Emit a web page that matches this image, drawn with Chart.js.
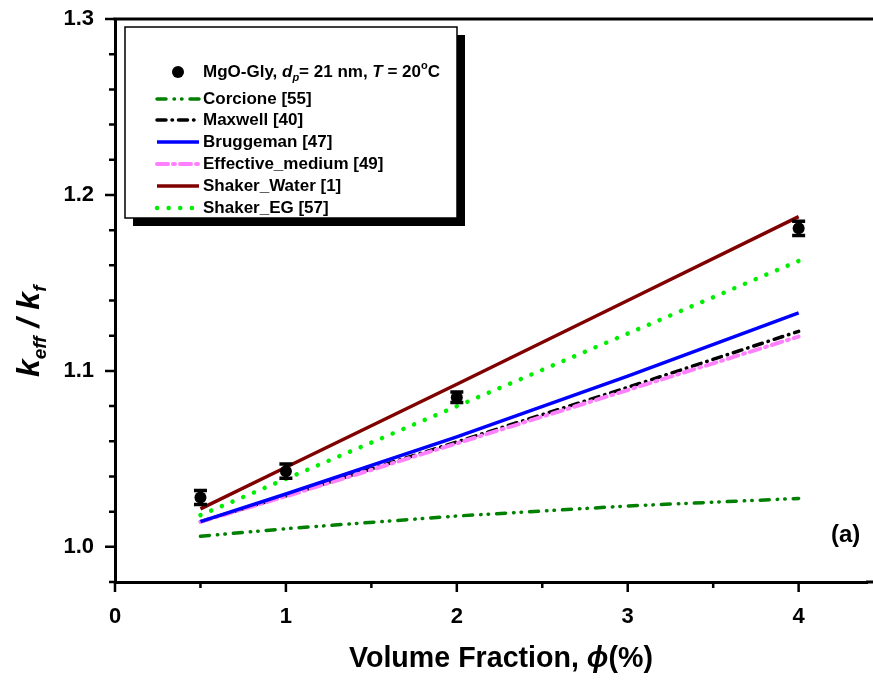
<!DOCTYPE html>
<html>
<head>
<meta charset="utf-8">
<script src="https://cdn.jsdelivr.net/npm/chart.js@4.4.1/dist/chart.umd.min.js"></script>
<style>
  html, body { margin: 0; padding: 0; background: #fff; overflow: hidden; }
  canvas { display: block; }
</style>
</head>
<body>
<canvas id="chart" width="873" height="684"></canvas>
<script>
// Measured thermal conductivity ratio of MgO–glycerol nanofluid
const expPhi = [0.5, 1, 2, 4];
const expRatio = [1.028, 1.043, 1.085, 1.181];
const expError = [0.004, 0.004, 0.003, 0.004];

// Model predictions, volume fraction in %
const modelPhi = [0.5, 1, 2, 3, 4];
const corcione = [1.0060, 1.0103, 1.0175, 1.0232, 1.0275];
const maxwell = [1.0143, 1.0290, 1.0596, 1.0906, 1.1225];
const bruggeman = [1.0143, 1.0300, 1.0625, 1.0970, 1.1330];
const effectiveMedium = [1.0142, 1.0287, 1.0588, 1.0891, 1.1195];
const shakerWater = [1.0216, 1.0452, 1.0924, 1.1400, 1.1877];
const shakerEG = [1.0180, 1.0386, 1.0799, 1.1212, 1.1625];

const seriesNames = ['Corcione [55]', 'Maxwell [40]', 'Bruggeman [47]',
  'Effective_medium [49]', 'Shaker_Water [1]', 'Shaker_EG [57]'];
const seriesValues = [corcione, maxwell, bruggeman, effectiveMedium, shakerWater, shakerEG];

const xMajorTicks = [0, 1, 2, 3, 4];
const xMinorTicks = [0.5, 1.5, 2.5, 3.5];
const yMajorTicks = [1.0, 1.1, 1.2, 1.3];
const yMinorTicks = [0.98, 1.02, 1.04, 1.06, 1.08, 1.12, 1.14, 1.16, 1.18, 1.22, 1.24, 1.26, 1.28];

const FONT = '"Liberation Sans", Arial, sans-serif';

const lineStyles = [
  { color: '#008000', width: 3.5, dash: [9, 8, 0.5, 7, 0.5, 8], cap: 'round' },
  { color: '#000000', width: 3.5, dash: [9, 6, 0.5, 6], cap: 'round' },
  { color: '#0000ff', width: 3.5, dash: [], cap: 'butt' },
  { color: '#ff80ff', width: 4, dash: [11, 5, 2, 5], cap: 'round' },
  { color: '#800000', width: 3.5, dash: [], cap: 'butt' },
  { color: '#00ee00', width: 4.5, dash: [0.1, 11.5], cap: 'round' }
];
const drawOrder = [6, 5, 3, 4, 2, 1];

const datasets = [{
  label: 'MgO-Gly',
  data: expPhi.map((x, i) => ({ x, y: expRatio[i] })),
  showLine: false,
  pointRadius: 6,
  pointBackgroundColor: '#000',
  pointBorderColor: '#000',
  pointBorderWidth: 0,
  order: 0
}];
seriesValues.forEach((vals, k) => {
  const st = lineStyles[k];
  datasets.push({
    label: seriesNames[k],
    data: modelPhi.map((x, i) => ({ x, y: vals[i] })),
    showLine: true,
    pointRadius: 0,
    borderColor: st.color,
    borderWidth: st.width,
    borderDash: st.dash,
    borderCapStyle: st.cap,
    tension: 0,
    order: drawOrder[k]
  });
});

// error bars for the measured points
const errorBars = {
  id: 'errorBars',
  afterDatasetsDraw(chart) {
    const { ctx, scales: { x, y } } = chart;
    ctx.save();
    ctx.strokeStyle = '#000';
    ctx.lineWidth = 3.5;
    expPhi.forEach((p, i) => {
      const px = x.getPixelForValue(p);
      const top = y.getPixelForValue(expRatio[i] + expError[i]);
      const bot = y.getPixelForValue(expRatio[i] - expError[i]);
      ctx.beginPath();
      ctx.moveTo(px, top); ctx.lineTo(px, bot);
      ctx.moveTo(px - 6.5, top); ctx.lineTo(px + 6.5, top);
      ctx.moveTo(px - 6.5, bot); ctx.lineTo(px + 6.5, bot);
      ctx.stroke();
    });
    ctx.restore();
  }
};

function drawRuns(ctx, runs, x, y) {
  // runs: [text, font, dy]
  let cx = x;
  runs.forEach(([t, f, dy]) => {
    ctx.font = f;
    ctx.fillText(t, cx, y + (dy || 0));
    cx += ctx.measureText(t).width;
  });
  return cx;
}

// axis frame, tick marks, titles, legend and panel label
const decorations = {
  id: 'decorations',
  afterDraw(chart) {
    const { ctx, chartArea: a, scales: { x, y } } = chart;
    ctx.save();
    ctx.strokeStyle = '#000';
    ctx.fillStyle = '#000';

    // top frame line, and the x axis carried on to the right edge
    ctx.lineWidth = 3;
    ctx.beginPath();
    ctx.moveTo(a.left - 1.5, a.top); ctx.lineTo(chart.width, a.top);
    ctx.moveTo(a.right - 1, a.bottom); ctx.lineTo(chart.width, a.bottom);
    ctx.stroke();

    // tick marks, pointing outward
    ctx.lineWidth = 2.5;
    ctx.beginPath();
    xMajorTicks.forEach(v => { const p = x.getPixelForValue(v); ctx.moveTo(p, a.bottom); ctx.lineTo(p, a.bottom + 10); });
    xMinorTicks.forEach(v => { const p = x.getPixelForValue(v); ctx.moveTo(p, a.bottom); ctx.lineTo(p, a.bottom + 6); });
    yMajorTicks.forEach(v => { const p = y.getPixelForValue(v); ctx.moveTo(a.left, p); ctx.lineTo(a.left - 10, p); });
    yMinorTicks.forEach(v => { const p = y.getPixelForValue(v); ctx.moveTo(a.left, p); ctx.lineTo(a.left - 6, p); });
    ctx.stroke();

    // x axis title, a compressed bold face
    ctx.textBaseline = 'alphabetic';
    ctx.textAlign = 'left';
    const xt = [['Volume Fraction, ', 'bold 30px ' + FONT], ['\u03D5', 'italic bold 30px ' + FONT], ['(%)', 'bold 30px ' + FONT]];
    let w = 0;
    xt.forEach(([t, f]) => { ctx.font = f; w += ctx.measureText(t).width; });
    const sx = 304 / w;
    ctx.save();
    ctx.translate(349, 667);
    ctx.scale(sx, 1);
    drawRuns(ctx, xt, 0, 0);
    ctx.restore();

    // y axis title k_eff / k_f
    ctx.save();
    ctx.translate(39, 377);
    ctx.rotate(-Math.PI / 2);
    const big = 'italic bold 32px ' + FONT;
    const sub = 'italic bold 19px ' + FONT;
    drawRuns(ctx, [['k', big], ['eff', sub, 7], [' / ', big], ['k', big], ['f', sub, 7]], 0, 0);
    ctx.restore();

    // panel label
    ctx.font = 'bold 24px ' + FONT;
    ctx.fillText('(a)', 831, 542);

    // legend with drop shadow
    const L = 125, T = 27, W = 332, H = 191;
    ctx.fillStyle = '#000';
    ctx.fillRect(L + 8, T + 8, W, H);
    ctx.fillStyle = '#fff';
    ctx.fillRect(L, T, W, H);
    ctx.lineWidth = 1.5;
    ctx.strokeStyle = '#000';
    ctx.strokeRect(L, T, W, H);

    ctx.fillStyle = '#000';
    ctx.textBaseline = 'middle';
    const f = 'bold 17px ' + FONT;
    const fi = 'italic bold 17px ' + FONT;
    const fs = 'italic bold 11px ' + FONT;
    const fsup = 'bold 11px ' + FONT;
    ctx.beginPath();
    ctx.arc(178, 72, 6, 0, Math.PI * 2);
    ctx.fill();
    drawRuns(ctx, [['MgO-Gly, ', f], ['d', fi], ['p', fs, 6], ['= 21 nm, ', f], ['T', fi], [' = 20', f], ['o', fsup, -6], ['C', f]], 203, 72);

    const rowsY = [99, 120, 142, 164, 186, 208];
    seriesNames.forEach((name, k) => {
      const st = lineStyles[k];
      const ry = rowsY[k];
      ctx.save();
      ctx.strokeStyle = st.color;
      ctx.lineWidth = st.width;
      ctx.lineCap = st.cap;
      ctx.setLineDash(st.dash);
      ctx.beginPath();
      ctx.moveTo(157, ry); ctx.lineTo(199, ry);
      ctx.stroke();
      ctx.restore();
      ctx.font = f;
      ctx.fillText(name, 203, ry);
    });

    ctx.restore();
  }
};

new Chart(document.getElementById('chart'), {
  type: 'scatter',
  data: { datasets },
  plugins: [errorBars, decorations],
  options: {
    responsive: false,
    animation: false,
    layout: { padding: { top: 19, right: 0, left: 0, bottom: 0 } },
    plugins: { legend: { display: false }, tooltip: { enabled: false } },
    scales: {
      x: {
        type: 'linear',
        min: 0, max: 4.40,
        afterFit(s) { s.height = 102; s.paddingRight = 0; s.paddingLeft = 0; },
        grid: { display: false },
        border: { display: true, color: '#000', width: 3 },
        ticks: {
          stepSize: 0.5,
          includeBounds: false,
          padding: 14,
          color: '#000',
          font: { family: FONT, size: 22, weight: 'bold' },
          maxRotation: 0,
          autoSkip: false,
          callback: v => (Math.abs(v - Math.round(v)) < 1e-6 ? String(Math.round(v)) : '')
        }
      },
      y: {
        type: 'linear',
        min: 0.98, max: 1.3,
        afterFit(s) { s.width = 115; s.paddingTop = 0; s.paddingBottom = 0; },
        grid: { display: false },
        border: { display: true, color: '#000', width: 3 },
        ticks: {
          stepSize: 0.02,
          padding: 13,
          color: '#000',
          font: { family: FONT, size: 22, weight: 'bold' },
          autoSkip: false,
          callback: v => (Math.abs(v * 10 - Math.round(v * 10)) < 1e-6 ? (Math.round(v * 10) / 10).toFixed(1) : '')
        }
      }
    }
  }
});
</script>
</body>
</html>
